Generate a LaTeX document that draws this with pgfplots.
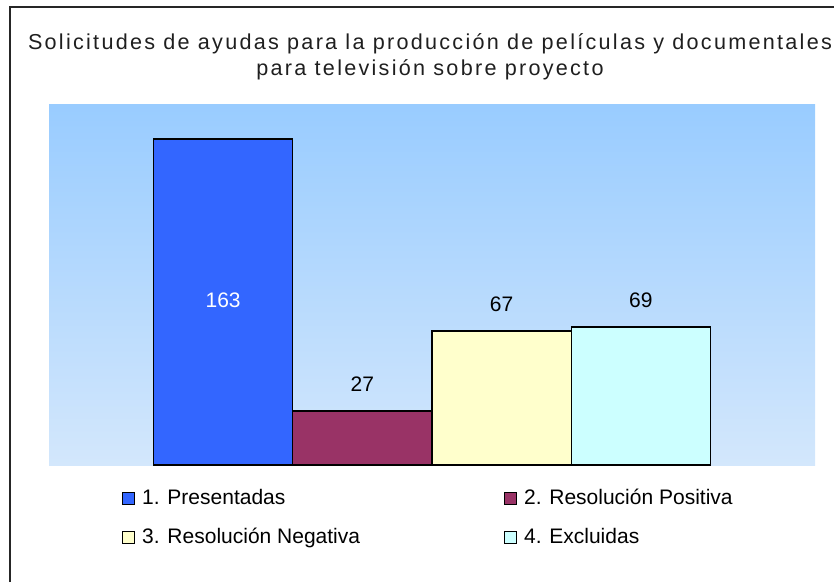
\documentclass[border=0pt]{standalone}
\usepackage{pgfplots}
\pgfplotsset{compat=1.18}
\usepackage{fontspec}
\setmainfont{Liberation Sans}
\newfontfamily\titlefont[LetterSpace=10.5]{Liberation Sans}
\definecolor{cBlue}{HTML}{3366FF}
\definecolor{cMaroon}{HTML}{993366}
\definecolor{cYellow}{HTML}{FFFFCC}
\definecolor{cCyan}{HTML}{CCFFFF}
\definecolor{bgTop}{HTML}{99CCFF}
\definecolor{bgBot}{HTML}{D3E7FC}
\begin{document}
\begin{tikzpicture}[x=1pt,y=1pt]
\path[use as bounding box] (0,0) rectangle (834,582);
\draw[line width=1.5pt, color=black!85] (10,0) -- (10,575) -- (834,575);
\node[anchor=base, font=\titlefont\fontsize{21.6}{26}\selectfont, text=black!88] at (430,532) {Solicitudes de ayudas para la producción de películas y documentales};
\node[anchor=base, font=\titlefont\fontsize{21.6}{26}\selectfont, text=black!88] at (430,506) {para televisión sobre proyecto};
\begin{axis}[
  at={(49pt,117pt)}, anchor=south west,
  scale only axis, width=766pt, height=360pt,
  xmin=-1.25, xmax=4.25, ymin=0, ymax=180,
  axis line style={draw=none},
  xtick=\empty, ytick=\empty,
  /pgf/number format/assume math mode=true,
  axis background/.style={shade, top color=bgTop, bottom color=bgBot},
  legend columns=2,
  legend style={at={(0.0953,-0.0667)}, anchor=north west, draw=none, fill=none,
    inner sep=0pt, row sep=19pt,
    font=\fontsize{21}{25}\selectfont,
    nodes={inner sep=0pt, text height=15pt, text depth=5pt, anchor=base west},
    /tikz/every odd column/.style={column sep=7pt},
    /tikz/column 2/.style={column sep=144pt}},
  sq/.style={legend image code/.code={\draw[##1,draw=black,line width=1pt] (0pt,0pt) rectangle (12pt,12pt);}},
  barstyle/.style={ybar, bar width=1, bar shift=0pt, draw=black, line width=1.5pt},
  lbl/.style={nodes near coords, every node near coord/.append style={anchor=base, yshift=20pt, font=\fontsize{21}{25}\selectfont, text=black}},
]
\addplot[barstyle, fill=cBlue, sq, nodes near coords, every node near coord/.append style={anchor=base, yshift=-168pt, font=\fontsize{21}{25}\selectfont, text=white}] coordinates {(0,163)};
\addlegendentry{1. Presentadas}
\addplot[barstyle, fill=cMaroon, sq, lbl] coordinates {(1,27)};
\addlegendentry{2. Resolución Positiva}
\addplot[barstyle, fill=cYellow, sq, lbl] coordinates {(2,67)};
\addlegendentry{3. Resolución Negativa}
\addplot[barstyle, fill=cCyan, sq, lbl] coordinates {(3,69)};
\addlegendentry{4. Excluidas}
\end{axis}
\end{tikzpicture}
\end{document}
